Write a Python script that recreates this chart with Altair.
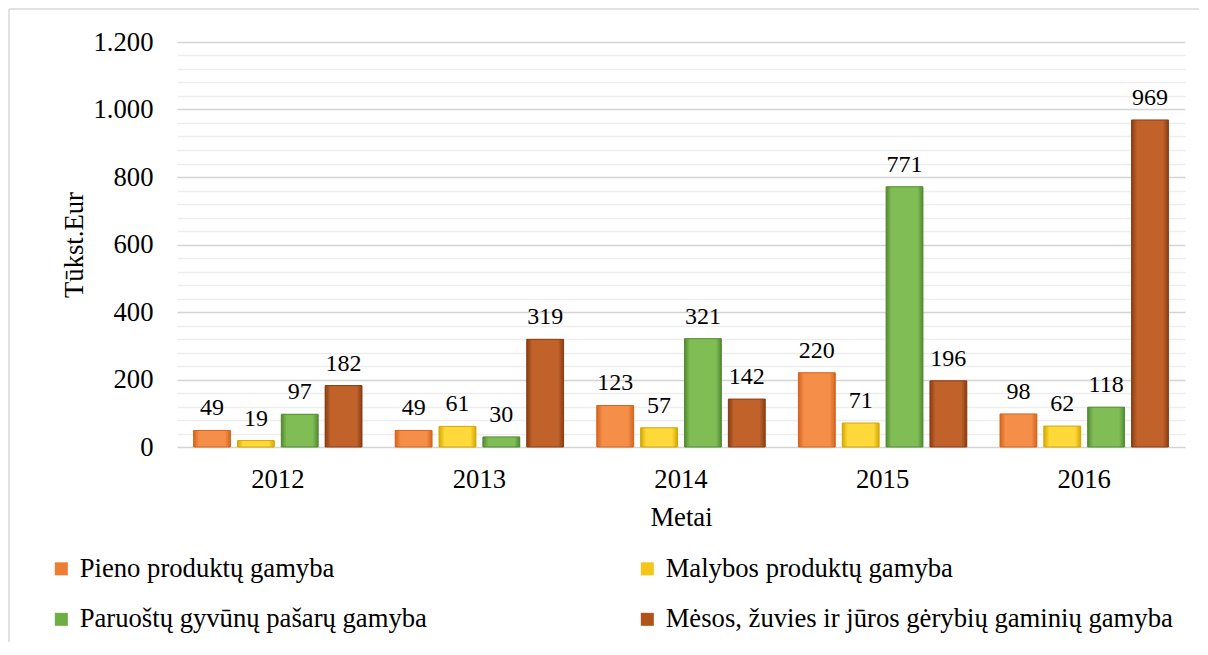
import altair as alt
import pandas as pd

years = ["2012", "2013", "2014", "2015", "2016"]
series = [
    "Pieno produktų gamyba",
    "Malybos produktų gamyba",
    "Paruoštų gyvūnų pašarų  gamyba",
    "Mėsos, žuvies ir jūros gėrybių gaminių gamyba",
]
pieno = [49, 49, 123, 220, 98]
malybos = [19, 61, 57, 71, 62]
pasarai = [97, 30, 321, 771, 118]
mesa = [182, 319, 142, 196, 969]
colors = ["#EE7D33", "#F5C518", "#6FAE45", "#B3531C"]
centers = ["#F48E48", "#FFD93A", "#80BE55", "#C0622A"]
edges = ["#D4651F", "#D4A800", "#548A33", "#8A3E14"]
y_ticks = list(range(0, 1201, 40))

rows = []
for vals, s in zip([pieno, malybos, pasarai, mesa], series):
    for yr, v in zip(years, vals):
        rows.append({"Metai": yr, "Serija": s, "Reiksme": v})
df = pd.DataFrame(rows)

FONT = "Liberation Serif"

base = alt.Chart(df).encode(
    x=alt.X(
        "Metai:N",
        sort=years,
        scale=alt.Scale(paddingInner=0.13, paddingOuter=0.065),
        axis=alt.Axis(
            title="Metai",
            labelAngle=0,
            labelFontSize=26.67,
            titleFontSize=26.67,
            labelPadding=19,
            titlePadding=12,
            domain=False,
            ticks=False,
            labelColor="black",
            titleColor="black",
            titleFontWeight="normal",
        ),
    ),
    xOffset=alt.XOffset(
        "Serija:N", sort=series, scale=alt.Scale(paddingInner=0.16, paddingOuter=0.08)
    ),
    y=alt.Y(
        "Reiksme:Q",
        scale=alt.Scale(domain=[0, 1200], nice=False),
        axis=alt.Axis(
            title="Tūkst.Eur",
            values=y_ticks,
            labelExpr="datum.value % 200 === 0 ? replace(format(datum.value, ','), ',', '.') : ''",
            labelOverlap=False,
            labelFontSize=26.67,
            titleFontSize=26.67,
            labelPadding=24,
            titlePadding=5,
            domain=False,
            ticks=False,
            labelColor="black",
            titleColor="black",
            titleFontWeight="normal",
            gridColor={
                "condition": {"test": "datum.value % 200 === 0", "value": "#d4d4d4"},
                "value": "#ededed",
            },
            gridWidth={
                "condition": {"test": "datum.value % 200 === 0", "value": 1.6},
                "value": 1.3,
            },
        ),
    ),
)

bars = base.mark_bar(strokeWidth=0).encode(
    color=alt.Color(
        "Serija:N",
        sort=series,
        scale=alt.Scale(domain=series, range=colors),
        legend=alt.Legend(
            title=None,
            orient="none",
            direction="horizontal",
            legendX=-129,
            legendY=513,
            columns=2,
            columnPadding=200,
            rowPadding=23,
            symbolType="square",
            symbolSize=169,
            symbolStrokeWidth=0,
            labelFontSize=26.67,
            labelFont=FONT,
            labelOffset=5,
            labelLimit=1000,
            labelColor="black",
            padding=0,
        ),
    ),
)

shaded = []
for s, c, e in zip(series, centers, edges):
    grad = {
        "gradient": "linear",
        "x1": 0, "y1": 0, "x2": 1, "y2": 0,
        "stops": [
            {"offset": 0, "color": e},
            {"offset": 0.15, "color": c},
            {"offset": 0.85, "color": c},
            {"offset": 1, "color": e},
        ],
    }
    shaded.append(
        base.transform_filter(alt.datum.Serija == s).mark_bar(
            fill=grad, stroke=e, strokeWidth=1
        )
    )

labels = base.mark_text(
    baseline="alphabetic", dy=-15, fontSize=24, font=FONT, color="black"
).encode(text=alt.Text("Reiksme:Q"))

frame_df = pd.DataFrame({"a": [0]})
left_line = alt.Chart(frame_df).mark_rule(color="#d9d9d9", strokeWidth=1.5).encode(
    x=alt.value(-168), y=alt.value(-33), y2=alt.value(700)
)
top_line = alt.Chart(frame_df).mark_rule(color="#d9d9d9", strokeWidth=1.5).encode(
    x=alt.value(-168), x2=alt.value(1100), y=alt.value(-33)
)

chart = (
    alt.layer(bars, *shaded, labels, left_line, top_line)
    .properties(
        width=1008,
        height=405,
        padding={"left": 169, "top": 34, "right": 14, "bottom": 195},
        autosize=alt.AutoSizeParams(type="none"),
    )
    .configure(font=FONT)
    .configure_view(stroke=None)
)

chart.save("out.html", embed_options={"renderer": "svg", "actions": False})
